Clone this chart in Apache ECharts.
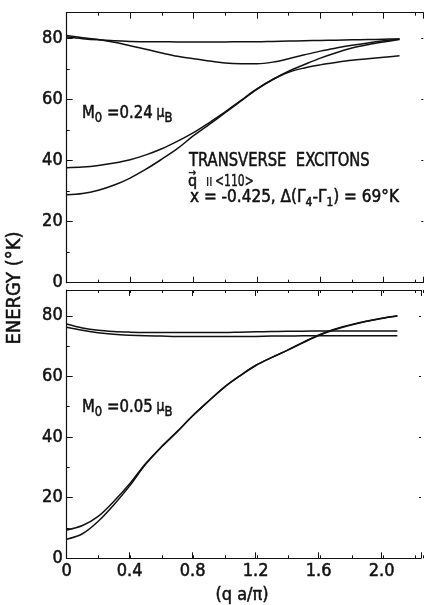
<!DOCTYPE html>
<html><head><meta charset="utf-8">
<script src="https://cdn.jsdelivr.net/npm/echarts@6/dist/echarts.min.js"></script>
<style>html,body{margin:0;padding:0;background:#fff}#c{width:424px;height:605px}</style>
</head><body><div id="c"></div>
<script>
// ---- data ----
const qValues = [0,0.1,0.2,0.3,0.4,0.5,0.6,0.7,0.8,0.9,1.0,1.1,1.2,1.3,1.4,1.5,1.6,1.7,1.8,1.9,2.0,2.1];
// upper panel  M0 = 0.24 muB
const topFlat  = [80.5,80.0,79.6,79.3,79.1,79.0,79.0,78.9,78.9,78.9,78.9,79.0,79.0,79.1,79.2,79.3,79.4,79.5,79.6,79.7,79.8,79.9];
const topDip   = [81.0,80.3,79.7,78.8,77.7,76.5,75.3,74.2,73.4,72.7,72.0,71.8,71.8,72.3,73.4,74.7,75.9,76.9,77.8,78.6,79.3,79.9];
const topLowA  = [37.7,37.9,38.4,39.2,40.3,41.9,43.9,46.4,49.2,52.5,56.0,59.8,63.5,66.6,69.0,70.4,71.4,72.2,72.9,73.4,73.9,74.4];
const topLowB  = [28.8,29.2,30.3,32.0,34.3,37.2,40.5,44.0,48.2,51.9,55.7,59.6,63.4,66.6,69.3,71.5,73.6,75.4,76.9,78.0,78.9,79.7];
// lower panel  M0 = 0.05 muB
const botFlatA = [77.3,76.0,75.2,74.8,74.6,74.5,74.5,74.5,74.5,74.5,74.5,74.6,74.7,74.8,74.9,74.9,75.0,75.0,75.0,75.0,75.0,75.0];
const botFlatB = [76.2,75.2,74.4,73.9,73.6,73.4,73.3,73.2,73.2,73.2,73.2,73.2,73.2,73.3,73.3,73.4,73.4,73.4,73.4,73.4,73.4,73.4];
const botRiseA = [9.3,10.8,13.8,18.8,24.6,31.2,36.7,41.7,47.0,51.8,56.4,60.2,63.6,66.2,68.6,71.2,73.7,75.6,77.0,78.2,79.2,80.0];
const botRiseB = [6.3,8.1,12.2,17.7,23.9,30.9,36.6,41.7,47.0,51.8,56.4,60.2,63.6,66.2,68.6,71.1,73.5,75.4,76.9,78.1,79.1,79.9];
// tick labels
const xTickValues = [0,0.4,0.8,1.2,1.6,2.0];
const xTickLabels = ['0','0.4','0.8','1.2','1.6','2.0'];
const yTickValues = [0,20,40,60,80];
const yTickLabels = ['0','20','40','60','80'];

// ---- layout ----
const FONT = '"DejaVu Sans Condensed","DejaVu Sans",sans-serif';
const INK = '#111';
const HEAVY = {textBorderColor: INK, textBorderWidth: 0.5};
const GL = 66.7, GW = 356.6;
const panels = [{top:12.7, height:270}, {top:290, height:268.3}];
const X_MAX = 2.25, Y_MAX = 88.5;

function lab(values, labels) {
  return v => { for (let i = 0; i < values.length; i++) if (Math.abs(v - values[i]) < 1e-6) return labels[i]; return ''; };
}

const grids = [], xAxis = [], yAxis = [];
// grids 0,1 : main ticks ; grids 2,3 : minor ticks (same rectangles)
for (let g = 0; g < 4; g++) {
  const p = panels[g % 2];
  const minor = g >= 2;
  grids.push({left: GL, top: p.top, width: GW, height: p.height, containLabel: false});
  const tickLen = minor ? 3 : 6;
  ['bottom', 'top'].forEach(pos => {
    xAxis.push({
      type: 'value', gridIndex: g, position: pos, min: 0, max: X_MAX,
      interval: minor ? 0.2 : 0.4,
      axisLine: {show: !minor, onZero: false, lineStyle: {color: INK, width: 1.2}},
      axisTick: {show: true, inside: true, length: tickLen, lineStyle: {color: INK, width: 1}},
      axisLabel: Object.assign({show: (g === 1 && pos === 'bottom'), formatter: lab(xTickValues, xTickLabels),
        fontFamily: FONT, fontSize: 18, color: INK, margin: 4}, HEAVY),
      splitLine: {show: false}
    });
  });
  ['left', 'right'].forEach(pos => {
    yAxis.push({
      type: 'value', gridIndex: g, position: pos, min: 0, max: Y_MAX,
      interval: minor ? 10 : 20,
      show: !(minor && pos === 'right'),
      axisLine: {show: (pos === 'left' && !minor), onZero: false, lineStyle: {color: INK, width: 1.2}},
      axisTick: {show: true, inside: true, length: pos === 'right' ? 2 : tickLen, lineStyle: {color: INK, width: 1}},
      axisLabel: Object.assign({show: (!minor && pos === 'left'), formatter: lab(yTickValues, yTickLabels),
        fontFamily: FONT, fontSize: 18, color: INK, margin: 4}, HEAVY),
      splitLine: {show: false}
    });
  });
}

function curve(vals, panel) {
  return {
    type: 'line', xAxisIndex: 2 * panel, yAxisIndex: 2 * panel,
    data: qValues.map((q, i) => [q, vals[i]]),
    showSymbol: false, smooth: 0.35, silent: true,
    lineStyle: {color: INK, width: 1.5}
  };
}

const series = [
  curve(topFlat, 0), curve(topDip, 0), curve(topLowA, 0), curve(topLowB, 0),
  curve(botFlatA, 1), curve(botFlatB, 1), curve(botRiseA, 1), curve(botRiseB, 1)
];

function txt(x, y, style, extra) {
  return Object.assign({type: 'text', x: x, y: y,
    style: Object.assign({fill: INK, stroke: INK, lineWidth: 0.5, fontFamily: FONT, align: 'left', verticalAlign: 'middle'}, style)}, extra || {});
}
const mRich = {
  m: {fontFamily: FONT, fontSize: 18, lineHeight: 24},
  s: {fontFamily: FONT, fontSize: 14, lineHeight: 24, padding: [10,0,0,0]},
  u: {fontFamily: FONT, fontSize: 15, lineHeight: 24}
};

const graphic = [
  txt(14.5, 288, {text: 'ENERGY (°K)', fontSize: 20, align: 'center'}, {rotation: Math.PI / 2}),
  txt(242, 595, {text: '(q a/π)', fontSize: 18, align: 'center'}),
  txt(82, 113, {text: '{m|M}{s|0}{m| =0.24}{u| μ}{s|B}', rich: mRich}, {scaleX: 0.92}),
  txt(82, 407, {text: '{m|M}{s|0}{m| =0.05}{u| μ}{s|B}', rich: mRich}, {scaleX: 0.92}),
  txt(189, 161, {text: 'TRANSVERSE  EXCITONS', fontSize: 20}, {scaleX: 0.82}),
  txt(188, 182, {text: 'q', fontSize: 16}),
  txt(188.5, 173.5, {text: '→', fontSize: 10}),
  txt(206, 182.5, {text: 'II', fontSize: 12, lineWidth: 0.2}),
  txt(215, 182.5, {text: '<110>', fontSize: 15, lineWidth: 0.4}, {scaleX: 0.8}),
  txt(190, 198, {text: '{t|x = -0.425, Δ(Γ}{s|4}{t|-Γ}{s|1}{t|) = 69°K}',
    rich: {t: {fontFamily: FONT, fontSize: 17, lineHeight: 24}, s: {fontFamily: FONT, fontSize: 12, lineHeight: 24, padding: [10,0,0,0]}}})
];

const chart = echarts.init(document.getElementById('c'), null, {renderer: 'canvas'});
chart.setOption({animation: false, backgroundColor: '#fff', grid: grids, xAxis, yAxis, series, graphic});
</script></body></html>
